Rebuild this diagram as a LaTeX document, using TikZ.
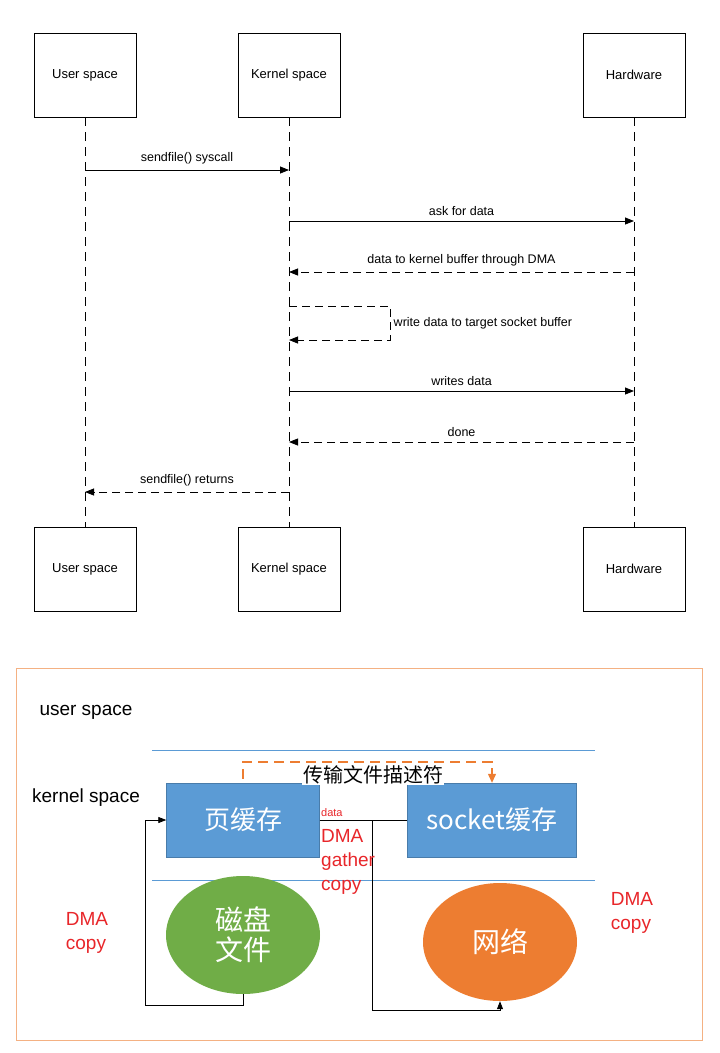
\documentclass[tikz,border=0pt]{standalone}
\usepackage{fontspec}
\setmainfont{Liberation Sans}
\newfontfamily\cjk{Noto Sans CJK SC}
\usetikzlibrary{arrows.meta,shapes.geometric}
\definecolor{boxblue}{HTML}{5B9BD5}
\definecolor{diskgreen}{HTML}{70AD47}
\definecolor{netorange}{HTML}{ED7D31}
\definecolor{lblred}{HTML}{E8262A}
\tikzset{
  actor/.style={draw,thick,minimum width=102pt,minimum height=84pt,font=\fontsize{13}{15}\selectfont},
  life/.style={dashed,thick,dash pattern=on 9pt off 6pt},
  msg/.style={thick,-{Triangle[length=9pt,width=7pt]}},
  reply/.style={thick,dash pattern=on 8pt off 5pt,-{Triangle[length=9pt,width=7pt]}},
  msglbl/.style={font=\fontsize{12.5}{14}\selectfont,above=2pt},
  buf/.style={fill=boxblue,draw=boxblue!80!black,minimum height=74pt,text=white,font=\cjk\fontsize{26}{30}\selectfont},
  blob/.style={ellipse,inner sep=0pt,minimum width=154pt,minimum height=118pt,text=white,align=center,font=\cjk\fontsize{28}{32}\selectfont},
  red/.style={text=lblred,font=\fontsize{19}{24}\selectfont,align=left},
}
\begin{document}
\begin{tikzpicture}[x=1pt,y=-1pt]
\useasboundingbox (0,0) rectangle (720,1053);
% sequence diagram
\node[actor] (ut) at (85,75) {User space};
\node[actor] (kt) at (289,75) {Kernel space};
\node[actor] (ht) at (634,75) {Hardware};
\node[actor] (ub) at (85,569) {User space};
\node[actor] (kb) at (289,569) {Kernel space};
\node[actor] (hb) at (634,569) {Hardware};
\draw[life] (ut) -- (ub);
\draw[life] (kt) -- (kb);
\draw[life] (ht) -- (hb);
\coordinate (u1) at (85,170); \coordinate (k1) at (289,170);
\draw[msg] (u1) -- node[msglbl]{sendfile() syscall} (k1);
\coordinate (k2) at (289,221); \coordinate (h2) at (634,221);
\draw[msg] (k2) -- node[msglbl]{ask for data} (h2);
\coordinate (h3) at (634,272); \coordinate (k3) at (289,272);
\draw[reply] (h3) -- node[msglbl]{data to kernel buffer through DMA} (k3);
\coordinate (k4) at (289,306); \coordinate (k5) at (289,340);
\draw[reply] (k4) -- ++(101,0) coordinate (s1) -- (s1|-k5) node[midway,right,font=\fontsize{12.5}{14}\selectfont]{write data to target socket buffer} -- (k5);
\coordinate (k6) at (289,391); \coordinate (h6) at (634,391);
\draw[msg] (k6) -- node[msglbl]{writes data} (h6);
\coordinate (h7) at (634,442); \coordinate (k7) at (289,442);
\draw[reply] (h7) -- node[msglbl]{done} (k7);
\coordinate (k8) at (289,492); \coordinate (u8) at (85,492);
\draw[reply] (k8) -- node[msglbl]{sendfile() returns} (u8);
% zero-copy figure
\draw[netorange!60] (16,668) rectangle (702,1040);
\node[font=\fontsize{19}{22}\selectfont] (us) at (86,712) {user space};
\node[font=\fontsize{19}{22}\selectfont] (ks) at (86,798) {kernel space};
\draw[boxblue] (152,750) -- (595,750);
\draw[boxblue] (152,880) -- (595,880);
\node[buf,minimum width=153pt] (page) at (243,820) {页缓存};
\node[buf,minimum width=169pt] (sock) at (492,820) {socket缓存};
\node[blob,fill=diskgreen] (disk) at (243,935) {磁盘\\[-2pt]文件};
\node[blob,fill=netorange] (net) at (500,942) {网络};
\draw[netorange,very thick,dash pattern=on 10pt off 6pt,-{Triangle[length=9pt,width=8pt]}] (page.north) ++(0,-4) |- (492,762) -- (sock.north);
\node[fill=white,inner sep=1pt,font=\cjk\fontsize{20}{24}\selectfont] (fd) at (373,775) {传输文件描述符};
\draw[thick] (page.east) -- (sock.west);
\draw[thick,-{Triangle[length=8pt,width=6pt]}] (372,820) |- (500,1010) -- (net.south);
\draw[thick,-{Triangle[length=8pt,width=6pt]}] (disk.south) |- (145,1005) |- (page.west);
\node[text=lblred,font=\fontsize{11}{13}\selectfont,anchor=south west,inner sep=1pt] (dl) at (320,818) {data};
\node[red,anchor=north west,inner sep=1pt] (dg) at (320,828) {DMA\\gather\\copy};
\node[red] (dc1) at (87,933) {DMA\\copy};
\node[red] (dc2) at (632,913) {DMA\\copy};
\end{tikzpicture}
\end{document}
